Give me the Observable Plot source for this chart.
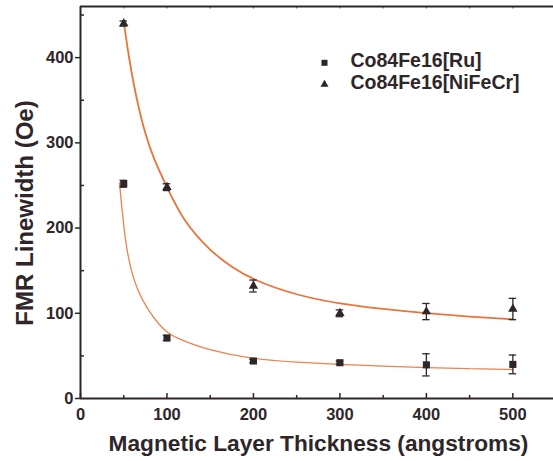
<!DOCTYPE html>
<html><head><meta charset="utf-8">
<script src="https://cdn.jsdelivr.net/npm/d3@7"></script>
<script src="https://cdn.jsdelivr.net/npm/@observablehq/plot@0.6"></script>
<style>body{margin:0;background:#fff} #chart svg{display:block}</style>
</head><body><div id="chart"></div>
<script>
// Measured data
const thickness = [50, 100, 200, 300, 400, 500];
const ruValues = [252, 71, 44, 42, 39.5, 40];
const ruErrors = [4, 3, 2, 2, 13, 11];
const nifecrValues = [440, 248, 132, 100, 102, 105];
const nifecrErrors = [3, 4, 7, 4, 9.5, 12.5];

// Fitted curves
const ruFitX = [45, 48, 52, 58, 65, 77, 92, 100, 112, 150, 200, 250, 300, 350, 400, 450, 500];
const ruFitY = [253, 223, 183, 152, 129, 105, 85, 78, 70, 56, 46, 42.5, 40, 38, 36, 35, 34];
const nifecrFitX = [50, 56, 62, 68, 75, 85, 100, 119, 150, 175, 200, 250, 300, 350, 400, 450, 500];
const nifecrFitY = [442, 400, 366, 338, 310, 280, 248, 208, 173, 154, 139, 121, 111, 105, 100, 96, 93];

// Axis ticks and labels
const xTicks = [0, 100, 200, 300, 400, 500];
const xMinor = [50, 150, 250, 350, 450];
const xTopTicks = [50, 100, 150, 200, 250, 300, 350, 400, 450, 500];
const yTicks = [0, 100, 200, 300, 400];
const yMinor = [50, 150, 250, 350, 450];
const xLabel = "Magnetic Layer Thickness (angstroms)";
const yLabel = "FMR Linewidth (Oe)";
const seriesNames = ["Co84Fe16[Ru]", "Co84Fe16[NiFeCr]"];

const ink = "#2f262a";
const orange = "#e8743b";

const ru = thickness.map((x, i) => ({x, y: ruValues[i], e: ruErrors[i]}));
const nf = thickness.map((x, i) => ({x, y: nifecrValues[i], e: nifecrErrors[i]}));
const ruFit = ruFitX.map((x, i) => ({x, y: ruFitY[i]}));
const nfFit = nifecrFitX.map((x, i) => ({x, y: nifecrFitY[i]}));
const capHalf = 4.3;

const errMarks = (data) => [
  Plot.ruleX(data, {x: "x", y1: d => d.y - d.e, y2: d => d.y + d.e, stroke: ink, strokeWidth: 1.3}),
  Plot.ruleY(data, {y: d => d.y + d.e, x1: d => d.x - capHalf, x2: d => d.x + capHalf, stroke: ink, strokeWidth: 1.3}),
  Plot.ruleY(data, {y: d => d.y - d.e, x1: d => d.x - capHalf, x2: d => d.x + capHalf, stroke: ink, strokeWidth: 1.3})
];

const innerH = 461 - 6 - 63;
const innerW = 553 - 80;

const chart = Plot.plot({
  width: 553, height: 461,
  marginLeft: 80, marginRight: 0, marginTop: 6, marginBottom: 63,
  x: {domain: [0, 547]},
  y: {domain: [0, 460]},
  style: {fontFamily: "'Liberation Sans', Arial, Helvetica, sans-serif", fontWeight: "bold", color: ink, background: "white"},
  marks: [
    Plot.axisY(yTicks, {tickSize: 5, tickPadding: 2, fontSize: 16.5, label: null, stroke: ink, strokeWidth: 1.5}),
    Plot.axisX(xTicks, {tickSize: 0, tickPadding: 10, fontSize: 16.5, label: null}),
    Plot.tickY(yMinor, {y: d => d, insetRight: innerW - 4, stroke: ink, strokeWidth: 1.5}),
    Plot.tickX(xTicks, {x: d => d, insetTop: innerH - 5, stroke: ink, strokeWidth: 1.5}),
    Plot.tickX(xMinor, {x: d => d, insetTop: innerH - 3, stroke: ink, strokeWidth: 1.5}),
    Plot.tickX(xTopTicks, {x: d => d, insetBottom: innerH - 2.5, stroke: ink, strokeWidth: 0.8}),
    Plot.ruleX([0], {stroke: ink, strokeWidth: 2}),
    Plot.ruleY([0], {stroke: ink, strokeWidth: 2}),
    Plot.ruleY([460], {stroke: ink, strokeWidth: 2}),
    Plot.line(nfFit, {x: "x", y: "y", stroke: orange, strokeWidth: 1.8, curve: "basis"}),
    Plot.line(ruFit, {x: "x", y: "y", stroke: "#ec8250", strokeWidth: 1.3, curve: "basis"}),
    ...errMarks(ru),
    ...errMarks(nf),
    Plot.dot(ru, {x: "x", y: "y", symbol: "square", r: 4, fill: ink, stroke: "none"}),
    Plot.dot(nf, {x: "x", y: "y", symbol: "triangle", r: 3.5, fill: ink, stroke: "none"}),
    // legend
    Plot.dot([0], {frameAnchor: "top-left", dx: 244, dy: 56.3, symbol: "square", r: 3.4, fill: ink, stroke: "none"}),
    Plot.dot([0], {frameAnchor: "top-left", dx: 244, dy: 78, symbol: "triangle", r: 3, fill: ink, stroke: "none"}),
    Plot.text([seriesNames[0]], {text: d => d, frameAnchor: "top-left", dx: 270, dy: 54.7, textAnchor: "start", lineAnchor: "middle", fontSize: 19.5, fill: ink}),
    Plot.text([seriesNames[1]], {text: d => d, frameAnchor: "top-left", dx: 270, dy: 76.7, textAnchor: "start", lineAnchor: "middle", fontSize: 19.5, fill: ink}),
    // axis titles
    Plot.text([yLabel], {text: d => d, frameAnchor: "left", rotate: -90, dx: -55.5, dy: 10.5, fontSize: 24, textAnchor: "middle", lineAnchor: "middle", fill: ink}),
    Plot.text([xLabel], {text: d => d, frameAnchor: "bottom", dx: 1.5, dy: 52, fontSize: 22.7, textAnchor: "middle", lineAnchor: "bottom", fill: ink})
  ]
});
document.getElementById("chart").append(chart);
</script>
</body></html>
